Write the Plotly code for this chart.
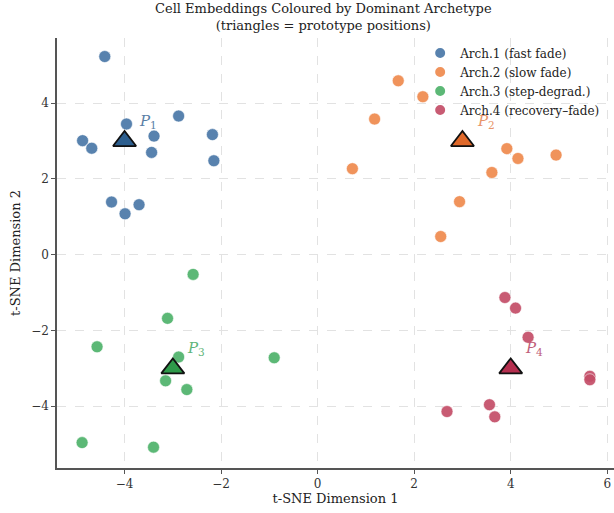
import plotly.graph_objects as go

FONT = "DejaVu Serif"

arch_names = ["Arch.1 (fast fade)", "Arch.2 (slow fade)", "Arch.3 (step-degrad.)", "Arch.4 (recovery\u2013fade)"]
point_colors = ["#4a78a8", "#ef8a4e", "#4fb36b", "#c44e68"]
proto_colors = ["#2d5f8f", "#e0692a", "#2e9a4a", "#b52f4f"]
label_colors = ["#5a7fa6", "#e8956a", "#5fb57a", "#c0607a"]

a1_x = [-4.41, -3.96, -2.88, -4.87, -4.68, -3.39, -3.44, -2.18, -2.15, -4.27, -3.70, -3.99]
a1_y = [5.23, 3.45, 3.66, 3.01, 2.81, 3.13, 2.70, 3.17, 2.48, 1.39, 1.32, 1.08]
a2_x = [1.67, 2.18, 1.18, 0.72, 3.92, 4.15, 4.94, 3.61, 2.94, 2.55]
a2_y = [4.59, 4.17, 3.58, 2.27, 2.80, 2.54, 2.63, 2.17, 1.40, 0.48]
a3_x = [-2.58, -3.11, -4.57, -2.88, -0.90, -3.15, -2.71, -4.88, -3.40]
a3_y = [-0.52, -1.68, -2.43, -2.70, -2.72, -3.33, -3.56, -4.96, -5.08]
a4_x = [3.88, 4.10, 4.36, 5.64, 5.64, 3.56, 3.67, 2.68]
a4_y = [-1.13, -1.41, -2.18, -3.21, -3.30, -3.96, -4.28, -4.14]

proto_x = [-4.0, 3.0, -3.0, 4.0]
proto_y = [3.0, 3.0, -3.0, -3.0]
proto_labels = ["<i>P</i><sub>1</sub>", "<i>P</i><sub>2</sub>", "<i>P</i><sub>3</sub>", "<i>P</i><sub>4</sub>"]

xs = [a1_x, a2_x, a3_x, a4_x]
ys = [a1_y, a2_y, a3_y, a4_y]

fig = go.Figure()
for i in range(4):
    fig.add_trace(go.Scatter(
        x=xs[i], y=ys[i], mode="markers", name=arch_names[i],
        marker=dict(size=12, color=point_colors[i], opacity=0.92,
                    line=dict(color="white", width=0.6)),
    ))
for i in range(4):
    fig.add_trace(go.Scatter(
        x=[proto_x[i]], y=[proto_y[i]], mode="markers", showlegend=False,
        marker=dict(symbol="triangle-up", size=20, color=proto_colors[i],
                    line=dict(color="#111111", width=1.8)),
    ))
    fig.add_annotation(x=proto_x[i] + 0.25, y=proto_y[i] + 0.22, text=proto_labels[i],
                       showarrow=False, xanchor="left", yanchor="bottom",
                       font=dict(family=FONT, size=15, color=label_colors[i]))

fig.add_annotation(xref="paper", yref="paper", x=0.4776, y=1.0477, xanchor="center", yanchor="middle",
                   text="Cell Embeddings Coloured by Dominant Archetype<br>(triangles = prototype positions)",
                   showarrow=False, font=dict(family=FONT, size=13, color="#222222"))

axis_common = dict(
    showgrid=True, gridcolor="#e2e2e2", griddash="dash", gridwidth=1,
    zeroline=False, showline=True, linecolor="#555555", linewidth=1.5,
    ticks="outside", ticklen=4, tickcolor="#555555", mirror=False, automargin=False,
    tickfont=dict(family=FONT, size=12, color="#333333"),
)

fig.update_layout(
    width=614, height=513,
    margin=dict(l=57, r=0, t=38, b=45, autoexpand=False),
    paper_bgcolor="white", plot_bgcolor="white",
    font=dict(family=FONT, color="#222222"),
    xaxis=dict(range=[-5.40, 6.14], tickvals=[-4, -2, 0, 2, 4, 6],
               ticktext=["\u22124", "\u22122", "0", "2", "4", "6"],
               title=dict(text="t-SNE Dimension 1", font=dict(family=FONT, size=13), standoff=4),
               **axis_common),
    yaxis=dict(range=[-5.63, 5.72], tickvals=[-4, -2, 0, 2, 4],
               ticktext=["\u22124", "\u22122", "0", "2", "4"],
               title=dict(text="t-SNE Dimension 2", font=dict(family=FONT, size=13), standoff=8),
               **axis_common),
    legend=dict(x=0.652, y=0.999, xanchor="left", yanchor="top",
                bgcolor="rgba(255,255,255,0)", borderwidth=0,
                font=dict(family=FONT, size=12, color="#222222"),
                itemsizing="constant", tracegroupgap=0),
)

fig.write_html("out.html", config={"displayModeBar": False},
               post_script="document.body.style.margin='0';")
